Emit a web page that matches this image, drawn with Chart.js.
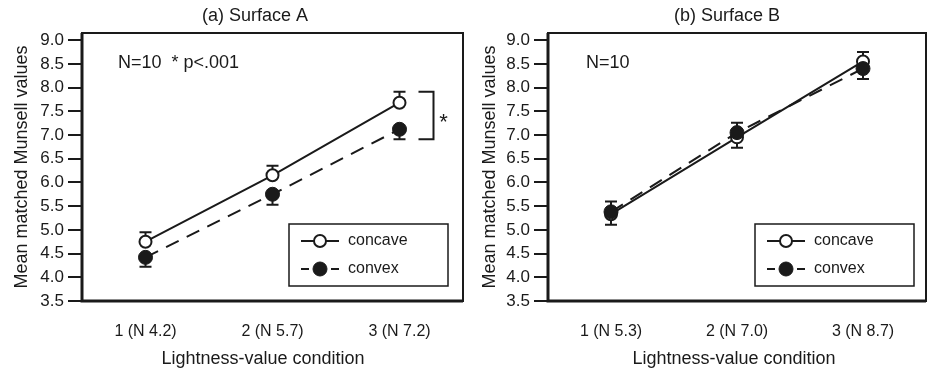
<!DOCTYPE html>
<html>
<head>
<meta charset="utf-8">
<script src="https://cdn.jsdelivr.net/npm/chart.js@4.4.0/dist/chart.umd.min.js"></script>
<style>
  html, body { margin: 0; padding: 0; background: #fff; }
  #wrap { position: relative; width: 927px; height: 368px; }
  .panel { position: absolute; top: 0; height: 368px; }
  #panelA { left: 0; width: 470px; }
  #panelB { left: 470px; width: 457px; }
</style>
</head>
<body>
<div id="wrap">
  <div class="panel" id="panelA"><canvas id="chartA"></canvas></div>
  <div class="panel" id="panelB"><canvas id="chartB"></canvas></div>
</div>
<script>
// values
const categoriesA = ["1 (N 4.2)", "2 (N 5.7)", "3 (N 7.2)"];
const categoriesB = ["1 (N 5.3)", "2 (N 7.0)", "3 (N 8.7)"];

const concaveA = [4.75, 6.15, 7.68];
const convexA = [4.42, 5.75, 7.12];
const concaveErrA = [0.2, 0.2, 0.23];
const convexErrA = [0.2, 0.22, 0.21];

const concaveB = [5.33, 6.95, 8.55];
const convexB = [5.38, 7.05, 8.4];
const concaveErrB = [0.22, 0.22, 0.2];
const convexErrB = [0.22, 0.21, 0.22];

const yTicks = [3.5, 4.0, 4.5, 5.0, 5.5, 6.0, 6.5, 7.0, 7.5, 8.0, 8.5, 9.0];

const FONT = "'Liberation Sans', Arial, sans-serif";
const INK = "#1a1a1a";

// error bars, frame, legend box, notes and titles
const panelExtras = {
  id: "panelExtras",
  beforeDatasetsDraw(chart, args, opts) {
    const ctx = chart.ctx;
    const x = chart.scales.x;
    const y = chart.scales.y;
    const sets = chart.data.datasets;
    ctx.save();
    ctx.strokeStyle = INK;
    ctx.lineWidth = 2;
    sets.forEach(function (ds, i) {
      const other = sets[1 - i].data;
      ds.data.forEach(function (v, j) {
        const dir = v >= other[j] ? 1 : -1;
        const px = x.getPixelForValue(j);
        const y0 = y.getPixelForValue(v);
        const y1 = y.getPixelForValue(v + dir * opts.errors[i][j]);
        ctx.beginPath();
        ctx.moveTo(px, y0);
        ctx.lineTo(px, y1);
        ctx.moveTo(px - 6, y1);
        ctx.lineTo(px + 6, y1);
        ctx.stroke();
      });
    });
    ctx.restore();
  },
  afterDraw(chart, args, opts) {
    const ctx = chart.ctx;
    const a = chart.chartArea;
    const x = chart.scales.x;
    const y = chart.scales.y;
    const sets = chart.data.datasets;
    ctx.save();

    // frame, heavier on the two axes
    ctx.strokeStyle = INK;
    ctx.lineWidth = 2;
    ctx.strokeRect(a.left, a.top, a.right - a.left, a.bottom - a.top);
    ctx.lineWidth = 3;
    ctx.beginPath();
    ctx.moveTo(a.left, a.top);
    ctx.lineTo(a.left, a.bottom);
    ctx.lineTo(a.right, a.bottom);
    ctx.stroke();

    // titles
    ctx.fillStyle = INK;
    ctx.font = "18px " + FONT;
    ctx.textAlign = "center";
    ctx.textBaseline = "middle";
    ctx.fillText(opts.title, opts.titleX, 16);
    ctx.fillText("Lightness-value condition", opts.xTitleX, 359);

    // note
    ctx.textAlign = "left";
    ctx.fillText(opts.note, a.left + opts.noteX, a.top + 30);

    // legend box
    const bw = 159, bh = 62;
    const bx = a.right - opts.legendRight - bw;
    const by = a.bottom - 15 - bh;
    ctx.lineWidth = 1.5;
    ctx.strokeRect(bx, by, bw, bh);
    const rows = [by + 17, by + 45];
    ctx.font = "16px " + FONT;
    sets.forEach(function (ds, i) {
      const ry = rows[i];
      ctx.strokeStyle = INK;
      ctx.lineWidth = 2;
      ctx.beginPath();
      if (ds.borderDash) {
        ctx.moveTo(bx + 12, ry); ctx.lineTo(bx + 20, ry);
        ctx.moveTo(bx + 42, ry); ctx.lineTo(bx + 50, ry);
      } else {
        ctx.moveTo(bx + 12, ry); ctx.lineTo(bx + 50, ry);
      }
      ctx.stroke();
      ctx.beginPath();
      ctx.arc(bx + 31, ry, ds.pointRadius, 0, Math.PI * 2);
      ctx.fillStyle = ds.pointBackgroundColor;
      ctx.fill();
      ctx.lineWidth = ds.pointBorderWidth;
      ctx.stroke();
      ctx.fillStyle = INK;
      ctx.fillText(ds.label, bx + 59, ry);
    });

    // significance bracket
    if (opts.bracket) {
      const k = opts.bracket;
      const px = x.getPixelForValue(k);
      const top = y.getPixelForValue(sets[0].data[k] + opts.errors[0][k]);
      const bot = y.getPixelForValue(sets[1].data[k] - opts.errors[1][k]);
      ctx.strokeStyle = INK;
      ctx.lineWidth = 2;
      ctx.beginPath();
      ctx.moveTo(px + 19, top);
      ctx.lineTo(px + 34, top);
      ctx.lineTo(px + 34, bot);
      ctx.lineTo(px + 19, bot);
      ctx.stroke();
      ctx.font = "22px " + FONT;
      ctx.textAlign = "center";
      ctx.textBaseline = "alphabetic";
      ctx.fillText("*", px + 44, (top + bot) / 2 + 13);
    }
    ctx.restore();
  },
};

function makeChart(id, labels, concave, convex, extras, yWidth, yTitlePad, padRight) {
  return new Chart(document.getElementById(id), {
    type: "line",
    data: {
      labels: labels,
      datasets: [
        {
          label: "concave",
          data: concave,
          borderColor: INK,
          borderWidth: 2,
          pointRadius: 6,
          pointBackgroundColor: "#fff",
          pointBorderColor: INK,
          pointBorderWidth: 2,
          order: 2,
        },
        {
          label: "convex",
          data: convex,
          borderColor: INK,
          borderWidth: 2,
          borderDash: [14, 9],
          pointRadius: 7,
          pointBackgroundColor: INK,
          pointBorderColor: INK,
          pointBorderWidth: 1,
          order: 1,
        },
      ],
    },
    options: {
      responsive: true,
      maintainAspectRatio: false,
      animation: false,
      events: [],
      layout: {
        autoPadding: false,
        padding: { top: 33, left: 0, right: padRight, bottom: 0 },
      },
      scales: {
        x: {
          type: "category",
          offset: true,
          grid: { display: false },
          border: { display: false },
          ticks: { color: INK, font: { size: 16, family: FONT }, padding: 13, maxRotation: 0, autoSkip: false },
          afterFit: function (s) { s.height = 67; },
        },
        y: {
          min: 3.5,
          max: 9.15,
          afterBuildTicks: function (s) {
            s.ticks = yTicks.map(function (v) { return { value: v }; });
          },
          grid: { drawOnChartArea: false, drawTicks: true, tickLength: 14, color: INK, lineWidth: 2 },
          border: { display: false },
          ticks: {
            color: INK,
            font: { size: 17, family: FONT },
            padding: 4,
            autoSkip: false,
            callback: function (v) { return Number(v).toFixed(1); },
          },
          title: {
            display: true,
            text: "Mean matched Munsell values",
            color: INK,
            font: { size: 18, family: FONT },
            padding: { top: yTitlePad, bottom: 0 },
          },
          afterFit: function (s) { s.width = yWidth; },
        },
      },
      plugins: {
        legend: { display: false },
        tooltip: { enabled: false },
        panelExtras: extras,
      },
    },
    plugins: [panelExtras],
  });
}

makeChart("chartA", categoriesA, concaveA, convexA, {
  errors: [concaveErrA, convexErrA],
  title: "(a) Surface A",
  titleX: 255,
  xTitleX: 263,
  note: "N=10  * p<.001",
  noteX: 36,
  legendRight: 15,
  bracket: 2,
}, 82, 11, 7);

makeChart("chartB", categoriesB, concaveB, convexB, {
  errors: [concaveErrB, convexErrB],
  title: "(b) Surface B",
  titleX: 257,
  xTitleX: 264,
  note: "N=10",
  noteX: 38,
  legendRight: 12,
  bracket: null,
}, 78, 9, 1);
</script>
</body>
</html>
